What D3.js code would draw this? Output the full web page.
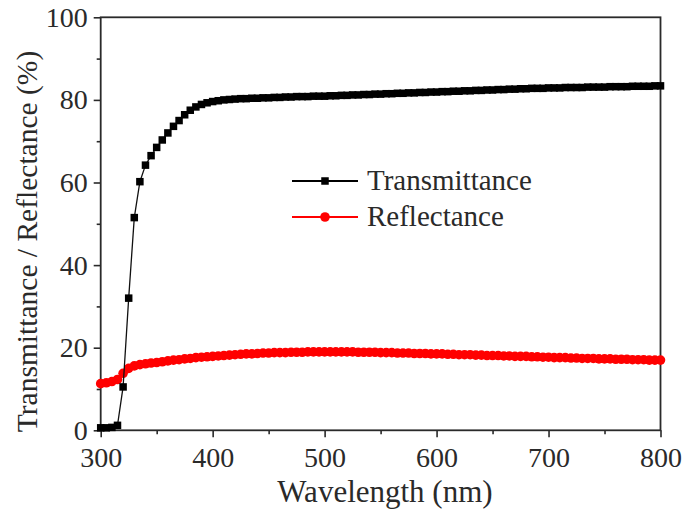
<!DOCTYPE html>
<html>
<head>
<meta charset="utf-8">
<script src="https://cdn.jsdelivr.net/npm/d3@7"></script>
</head>
<body style="margin:0">
<script>
// wavelength grid, nm (one point every 5 nm)
var wavelength=d3.range(300,801,5);

// transmittance, %
var transmittance=[
  0.6,0.6,0.7,1.2,10.5,32.0,51.5,60.2,64.2,66.5,
  68.5,70.3,72.0,73.6,75.0,76.4,77.5,78.3,78.9,79.3,
  79.6,79.8,80.0,80.1,80.2,80.3,80.3,80.4,80.4,80.5,
  80.5,80.6,80.6,80.7,80.7,80.8,80.8,80.8,80.9,80.9,
  80.9,81.0,81.0,81.1,81.1,81.2,81.2,81.3,81.3,81.4,
  81.4,81.5,81.5,81.6,81.6,81.7,81.7,81.8,81.8,81.9,
  81.9,82.0,82.0,82.1,82.1,82.2,82.2,82.3,82.3,82.4,
  82.4,82.5,82.5,82.6,82.6,82.7,82.7,82.8,82.8,82.8,
  82.9,82.9,82.9,83.0,83.0,83.0,83.0,83.1,83.1,83.1,
  83.1,83.2,83.2,83.2,83.2,83.3,83.3,83.3,83.3,83.4,
  83.4
];

// reflectance, %
var reflectance=[
  11.3,11.5,11.8,12.3,13.8,15.0,15.6,15.9,16.1,16.3,
  16.4,16.6,16.8,17.0,17.1,17.3,17.4,17.6,17.7,17.8,
  17.9,18.0,18.1,18.2,18.3,18.4,18.5,18.5,18.6,18.7,
  18.7,18.8,18.8,18.8,18.9,18.9,18.9,19.0,19.0,19.0,
  19.0,19.0,19.0,19.0,19.0,19.0,18.9,18.9,18.9,18.9,
  18.8,18.8,18.8,18.7,18.7,18.7,18.6,18.6,18.6,18.5,
  18.5,18.5,18.4,18.4,18.3,18.3,18.3,18.2,18.2,18.1,
  18.1,18.1,18.0,18.0,17.9,17.9,17.9,17.8,17.8,17.7,
  17.7,17.6,17.6,17.6,17.5,17.5,17.4,17.4,17.4,17.3,
  17.3,17.3,17.2,17.2,17.2,17.1,17.1,17.1,17.0,17.0,
  17.0
];

var xTicks=[300,400,500,600,700,800];
var xMinor=[350,450,550,650,750];
var yTicks=[0,20,40,60,80,100];
var yMinor=[10,30,50,70,90];
var seriesNames=['Transmittance','Reflectance'];

var FONT="'Liberation Serif','Tinos','Times New Roman',serif";
var W=684,H=515;
var m={left:100.7,top:17.3,right:684-660.5,bottom:515-430.3};
var iw=W-m.left-m.right, ih=H-m.top-m.bottom;

var svg=d3.select('body').append('svg').attr('width',W).attr('height',H)
  .style('font-family',FONT).style('display','block');
var g=svg.append('g').attr('transform','translate('+m.left+','+m.top+')');

var x=d3.scaleLinear().domain([300,800]).range([0,iw]);
var y=d3.scaleLinear().domain([0,100]).range([ih,0]);

//---------------- axes ----------------
var xAxis=g.append('g').attr('transform','translate(0,'+ih+')')
  .call(d3.axisBottom(x).tickValues(xTicks).tickSize(7).tickPadding(10).tickFormat(d3.format('d')));
var xAxisMinor=g.append('g').attr('transform','translate(0,'+ih+')')
  .call(d3.axisBottom(x).tickValues(xMinor).tickSize(4).tickFormat(''));
var yAxis=g.append('g')
  .call(d3.axisLeft(y).tickValues(yTicks).tickSize(7).tickPadding(6).tickFormat(d3.format('d')));
var yAxisMinor=g.append('g')
  .call(d3.axisLeft(y).tickValues(yMinor).tickSize(4).tickFormat(''));

[xAxis,xAxisMinor,yAxis,yAxisMinor].forEach(function(a){
  a.attr('font-family',null).attr('font-size',null);
  a.select('.domain').remove();
  a.selectAll('line').attr('stroke','#2a2a2a').attr('stroke-width',1.6);
  a.selectAll('text').attr('fill','#2a2a2a')
    .style('font-family',FONT).style('font-size','28px');
});

// frame
g.append('rect').attr('x',0).attr('y',0).attr('width',iw).attr('height',ih)
  .attr('fill','none').attr('stroke','#2a2a2a').attr('stroke-width',1.8);

//---------------- series ----------------
var tData=wavelength.map(function(w,i){return [w,transmittance[i]];});
var rData=wavelength.map(function(w,i){return [w,reflectance[i]];});
var line=d3.line().x(function(d){return x(d[0]);}).y(function(d){return y(d[1]);});

var plot=g.append('g');
plot.append('path').datum(rData).attr('d',line).attr('fill','none')
  .attr('stroke','#ff0000').attr('stroke-width',1.5);
plot.selectAll('circle.r').data(rData).enter().append('circle').attr('class','r')
  .attr('cx',function(d){return x(d[0]);}).attr('cy',function(d){return y(d[1]);})
  .attr('r',4.8).attr('fill','#ff0000');

plot.append('path').datum(tData).attr('d',line).attr('fill','none')
  .attr('stroke','#111').attr('stroke-width',1.3);
var sq=7.5;
plot.selectAll('rect.t').data(tData).enter().append('rect').attr('class','t')
  .attr('x',function(d){return x(d[0])-sq/2;}).attr('y',function(d){return y(d[1])-sq/2;})
  .attr('width',sq).attr('height',sq).attr('fill','#000');

//---------------- legend ----------------
var lg=svg.append('g').attr('transform','translate(292,181)');
var colors=['#000','#ff0000'];
seriesNames.forEach(function(name,i){
  var row=lg.append('g').attr('transform','translate(0,'+(i*36)+')');
  row.append('line').attr('x1',0).attr('x2',66).attr('y1',0).attr('y2',0)
    .attr('stroke',colors[i]).attr('stroke-width',1.8);
  if(i==0){
    row.append('rect').attr('x',33-sq/2).attr('y',-sq/2).attr('width',sq).attr('height',sq).attr('fill','#000');
  }else{
    row.append('circle').attr('cx',33).attr('cy',0).attr('r',4.8).attr('fill','#ff0000');
  }
  row.append('text').attr('x',75).attr('y',9).attr('fill','#2a2a2a')
    .style('font-family',FONT).style('font-size','29px').text(name);
});

//---------------- axis titles ----------------
svg.append('text').attr('x',385).attr('y',502).attr('text-anchor','middle')
  .attr('fill','#2a2a2a').style('font-family',FONT).style('font-size','31px')
  .text('Wavelength (nm)');
svg.append('text').attr('transform','translate(37,241.5) rotate(-90)')
  .attr('text-anchor','middle').attr('fill','#2a2a2a')
  .style('font-family',FONT).style('font-size','29.5px')
  .text('Transmittance / Reflectance (%)');
</script>
</body>
</html>
